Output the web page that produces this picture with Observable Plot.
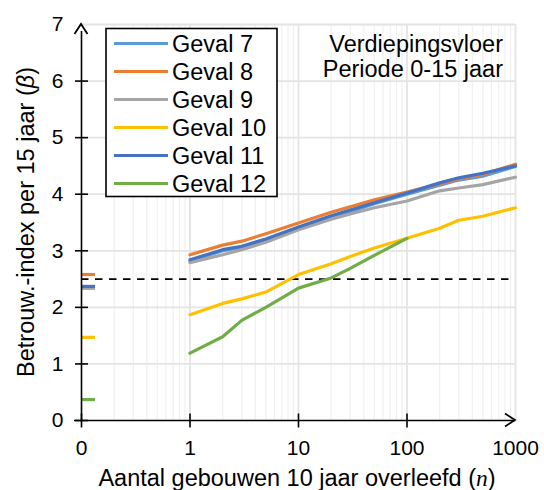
<!DOCTYPE html>
<html><head><meta charset="utf-8">
<script src="https://cdn.jsdelivr.net/npm/d3@7"></script>
<script src="https://cdn.jsdelivr.net/npm/@observablehq/plot@0.6"></script>
<style>
body{margin:0;background:#fff}
#chart{position:relative;width:544px;height:490px}
</style>
</head><body><div id="chart"></div>
<script>
// ---- data ----
const series = ["Geval 7","Geval 8","Geval 9","Geval 10","Geval 11","Geval 12"];
const colors = ["#5B9BD5","#ED7D31","#A5A5A5","#FFC000","#4472C4","#70AD47"];
const nValues = [1,2,3,5,10,20,30,50,100,200,300,500,1000];
const geval7  = [2.82,3.00,3.06,3.19,3.40,3.58,3.69,3.83,4.00,4.16,4.25,4.32,4.49];
const geval8  = [2.93,3.10,3.17,3.30,3.49,3.68,3.78,3.90,4.04,4.18,4.27,4.35,4.53];
const geval9  = [2.79,2.93,3.02,3.15,3.37,3.56,3.65,3.76,3.88,4.06,4.11,4.17,4.30];
const geval10 = [1.87,2.07,2.15,2.27,2.58,2.77,2.90,3.05,3.22,3.40,3.54,3.61,3.76];
const geval11 = [2.84,3.02,3.08,3.21,3.42,3.62,3.72,3.85,4.02,4.20,4.29,4.37,4.50];
const geval12 = [1.19,1.48,1.77,2.00,2.34,2.52,2.69,2.92,3.22,null,null,null,null];
const zeroValues = [2.34,2.58,2.35,1.47,2.37,0.37]; // values at n = 0
const threshold = 2.5;
const xTicks = [0,1,10,100,1000];
const xTickLabels = ["0","1","10","100","1000"];
const yTicks = [0,1,2,3,4,5,6,7];
const yTickLabels = ["0","1","2","3","4","5","6","7"];
const xLabel = ["Aantal gebouwen 10 jaar overleefd (", "n", ")"];
const yLabel = ["Betrouw.-index per 15 jaar (", "β", ")"];
const note = ["Verdiepingsvloer","Periode 0-15 jaar"];

// n = 0 is drawn at the position of 0.1 on the log axis
const ZERO = 0.1;
const pos = n => n === 0 ? ZERO : n;

const allSeries = [geval7,geval8,geval9,geval10,geval11,geval12];
const lineData = [];
allSeries.forEach((vals,i) => vals.forEach((v,j) => {
  if (v != null) lineData.push({s: series[i], n: nValues[j], v});
}));
const zeroData = series.map((s,i) => ({s, n: 0, v: zeroValues[i]}));

const minorX = [];
for (let e = -1; e < 3; e++) for (let k = 2; k <= 9; k++) minorX.push(k * 10 ** e);
const majorX = [1,10,100,1000];

const FONT = "Liberation Sans, Arial, Helvetica, sans-serif";
const FS_TICK = 21, FS_TEXT = 23.5;

const hline = {draw(ctx){ ctx.moveTo(-6.5,0); ctx.lineTo(6.5,0); }};
const vline = {draw(ctx){ ctx.moveTo(0,-7); ctx.lineTo(0,7); }};
const stub  = {draw(ctx){ ctx.moveTo(0,0); ctx.lineTo(13.5,0); }};

const W = 544, H = 490;
const plot = Plot.plot({
  width: W, height: H,
  marginLeft: 81, marginRight: 29, marginTop: 24, marginBottom: 70,
  style: {fontFamily: FONT, fontSize: FS_TICK + "px", background: "#fff", color: "#000"},
  x: {type: "log", domain: [ZERO, 1000], axis: null},
  y: {domain: [0, 7], axis: null},
  color: {domain: series, range: colors},
  marks: [
    Plot.ruleX(minorX, {x: d => d, y1: 0, y2: 7, stroke: "#f0f0f0", strokeWidth: 1.2}),
    Plot.ruleX(majorX, {x: d => d, y1: 0, y2: 7, stroke: "#e4e4e4", strokeWidth: 1.8}),
    Plot.ruleY(yTicks.slice(1), {y: d => d, x1: ZERO, x2: 1000, stroke: "#e4e4e4", strokeWidth: 1.8}),
    Plot.ruleY([threshold], {y: d => d, x1: ZERO, x2: 1000, insetRight: 6, stroke: "#000", strokeWidth: 1.8, strokeDasharray: "7.5,6.5"}),
    Plot.dot(zeroData, {x: d => pos(d.n), y: "v", symbol: () => stub, r: 4, stroke: "s", strokeWidth: 3.2, fill: "none"}),
    Plot.line(lineData, {x: "n", y: "v", z: "s", stroke: "s", strokeWidth: 3.2, curve: "linear"}),
    // axes
    Plot.ruleX([ZERO], {x: d => d, y1: 0, y2: 7, insetBottom: -7, stroke: "#000", strokeWidth: 1.6}),
    Plot.ruleY([0], {y: d => d, x1: ZERO, x2: 1000, insetLeft: -7, stroke: "#000", strokeWidth: 1.6}),
    Plot.dot(yTicks.slice(0,7), {x: () => ZERO, y: d => d, symbol: () => hline, stroke: "#000", strokeWidth: 1.6}),
    Plot.dot(xTicks.slice(0,4), {x: d => pos(d), y: () => 0, symbol: () => vline, stroke: "#000", strokeWidth: 1.6}),
    Plot.text(yTicks, {x: () => ZERO, y: d => d, text: (d,i) => yTickLabels[i], textAnchor: "end", dx: -18, fontSize: FS_TICK, fill: "#000"}),
    Plot.text(xTicks, {x: d => pos(d), y: () => 0, text: (d,i) => xTickLabels[i], lineAnchor: "top", dy: 20, fontSize: FS_TICK, fill: "#000"})
  ]
});
document.getElementById("chart").appendChild(plot);

const svg = d3.select(plot);
const sx = plot.scale("x"), sy = plot.scale("y");
// arrow heads at the ends of the axes
const ax = sx.apply(ZERO), ay = sy.apply(7);
svg.append("path").attr("d", `M${ax-6.5},${ay+10}L${ax},${ay}L${ax+6.5},${ay+10}`)
  .attr("fill","none").attr("stroke","#000").attr("stroke-width",1.8);
const bx = sx.apply(1000), by = sy.apply(0);
svg.append("path").attr("d", `M${bx-10},${by-6.5}L${bx},${by}L${bx-10},${by+6.5}`)
  .attr("fill","none").attr("stroke","#000").attr("stroke-width",1.8);

// axis titles
const xt = svg.append("text").attr("x", 297).attr("y", 486).attr("text-anchor","middle")
  .attr("font-family", FONT).attr("font-size", FS_TEXT).attr("fill","#000");
xt.append("tspan").text(xLabel[0]);
xt.append("tspan").attr("font-style","italic").attr("font-family","Liberation Serif, Times New Roman, serif").text(xLabel[1]);
xt.append("tspan").text(xLabel[2]);
const yt = svg.append("text").attr("transform","translate(34,222) rotate(-90)").attr("text-anchor","middle")
  .attr("font-family", FONT).attr("font-size", FS_TEXT).attr("fill","#000");
yt.append("tspan").text(yLabel[0]);
yt.append("tspan").attr("font-style","italic").text(yLabel[1]);
yt.append("tspan").text(yLabel[2]);

// note
note.forEach((t,i) => svg.append("text").attr("x", 503).attr("y", 52 + i*25).attr("text-anchor","end")
  .attr("font-family", FONT).attr("font-size", FS_TEXT).attr("fill","#000").text(t));

// legend
const lg = svg.append("g");
lg.append("rect").attr("x",106).attr("y",28.5).attr("width",171).attr("height",168)
  .attr("fill","#fff").attr("stroke","#000").attr("stroke-width",1.6);
series.forEach((s,i) => {
  const y = 43.5 + i*28;
  lg.append("line").attr("x1",114).attr("x2",168).attr("y1",y).attr("y2",y)
    .attr("stroke",colors[i]).attr("stroke-width",3);
  lg.append("text").attr("x",172).attr("y",y).attr("dy","0.36em").attr("text-anchor","start")
    .attr("font-family",FONT).attr("font-size",FS_TEXT).attr("fill","#000").text(s);
});
</script>
</body></html>
